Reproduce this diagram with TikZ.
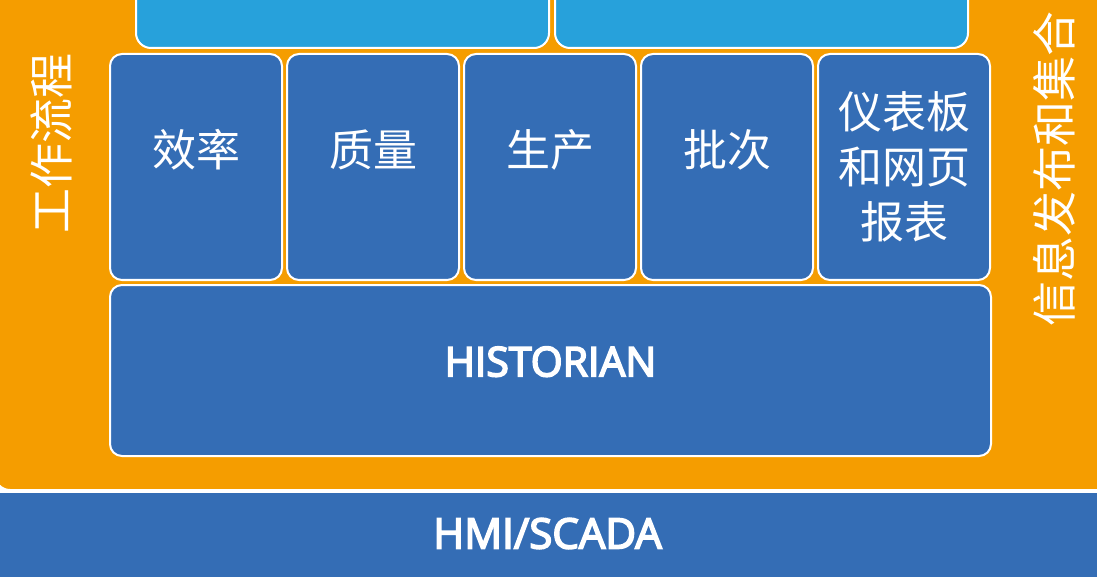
\documentclass[tikz,border=0pt]{standalone}
\usepackage{fontspec}
\setmainfont{Open Sans}
\newfontfamily\heavy{Open Sans}[FakeBold=4]
\newfontfamily\cjk{Noto Sans CJK SC}
\usetikzlibrary{positioning}
\definecolor{Orange}{HTML}{F59D00}
\definecolor{DarkBlue}{HTML}{346DB5}
\definecolor{SkyBlue}{HTML}{27A1DB}
\begin{document}
\begin{tikzpicture}[
  x=1pt,y=-1pt,node distance=3pt,
  box/.style={draw=white,line width=2pt,rounded corners=12pt,fill=DarkBlue,text=white,inner sep=0pt},
  mod/.style={box,minimum width=172pt,minimum height=226pt,align=center,font=\cjk\fontsize{44}{55}\selectfont},
  oneline/.style={text height=20pt,text depth=20pt},
  side/.style={rotate=90,text=white,inner sep=0pt,font=\cjk\fontsize{45}{54}\selectfont}
]
  \useasboundingbox (0,0) rectangle (1097,577);
  \clip (0,0) rectangle (1097,577);
  % background band
  \draw[white,line width=2pt,fill=Orange,rounded corners=15pt] (-5,-30) rectangle (1120,490);
  \node[side] (flow) at (51,144) {工作流程};
  \node[side] (info) at (1054,169) {信息发布和集合};
  % upper layer (cut off)
  \node[box,fill=SkyBlue,rounded corners=15pt,minimum width=413pt,minimum height=80pt,anchor=south west] (top1) at (135,49) {};
  \node[box,fill=SkyBlue,rounded corners=15pt,minimum width=413pt,minimum height=80pt,right=4pt of top1] (top2) {};
  % modules
  \node[mod,oneline] (eff) at (196,167) {效率};
  \node[mod,oneline,right=of eff] (qual) {质量};
  \node[mod,oneline,right=of qual] (prod) {生产};
  \node[mod,oneline,right=of prod] (batch) {批次};
  \node[mod,right=of batch] (dash) {仪表板\\和网页\\报表};
  \node[box,minimum width=881pt,minimum height=171pt,font=\heavy\fontsize{41}{48}\selectfont,text depth=18pt,anchor=north west] (hist) at ([yshift=-3pt]eff.south west) {HISTORIAN};
  % bottom layer
  \node[box,rounded corners=0pt,minimum width=1133pt,minimum height=110pt,font=\heavy\fontsize{42}{48}\selectfont,text height=30pt,text depth=27pt,anchor=north west] (hmi) at (-20,491) {HMI/SCADA};
\end{tikzpicture}
\end{document}
